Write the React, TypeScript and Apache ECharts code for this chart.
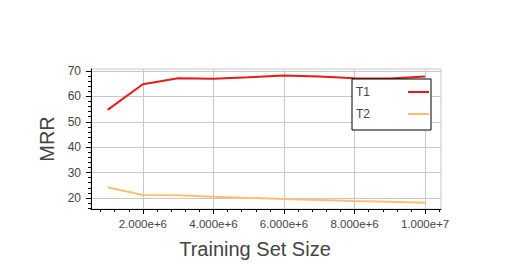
import React, { useEffect, useRef } from 'react';
import * as echarts from 'echarts';

const trainingSizes = [1e6, 2e6, 3e6, 4e6, 5e6, 6e6, 7e6, 8e6, 9e6, 1e7];
const t1Values = [54.7, 64.8, 67.1, 66.9, 67.5, 68.2, 67.8, 67.1, 67.0, 67.8];
const t2Values = [24.2, 21.2, 21.1, 20.5, 20.0, 19.6, 19.2, 18.8, 18.5, 18.1];
const xMajorTicks = [2e6, 4e6, 6e6, 8e6, 1e7];
const xMinorTicks = [0.8e6, 1.2e6, 1.6e6, 2.4e6, 2.8e6, 3.2e6, 3.6e6, 4.4e6, 4.8e6, 5.2e6, 5.6e6, 6.4e6, 6.8e6, 7.2e6, 7.6e6, 8.4e6, 8.8e6, 9.2e6, 9.6e6, 1.04e7];
const yMajorTicks = [20, 30, 40, 50, 60, 70];
const yMinorTicks = [16, 18, 22, 24, 26, 28, 32, 34, 36, 38, 42, 44, 46, 48, 52, 54, 56, 58, 62, 64, 66, 68];

const FONT = '"Liberation Sans", Arial, sans-serif';
const X_MIN = 0.53e6;
const X_MAX = 1.045e7;
const Y_MIN = 15.65;
const Y_MAX = 70.78;

export default function App() {
  const ref = useRef<HTMLDivElement>(null);
  useEffect(() => {
    if (!ref.current) return;
    const chart = echarts.init(ref.current, null, { renderer: 'svg' });
    const axisBlack = { color: '#000', width: 1 };
    chart.setOption({
      animation: false,
      backgroundColor: '#fff',
      textStyle: { fontFamily: FONT },
      grid: {
        left: 91, top: 69, right: 81, bottom: 69,
        show: true, borderColor: '#c8c8c8', borderWidth: 1, backgroundColor: 'transparent',
      },
      legend: {
        orient: 'vertical', left: 352, top: 79, align: 'right',
        icon: 'rect', itemWidth: 21, itemHeight: 2, itemGap: 8,
        padding: [6, 2, 9, 4],
        borderColor: '#000', borderWidth: 1, backgroundColor: '#fff',
        textStyle: { fontSize: 12, lineHeight: 14, color: '#444', fontFamily: FONT, padding: [0, 33, 0, 0] },
        data: ['T1', 'T2'],
      },
      xAxis: [
        {
          type: 'value', min: X_MIN, max: X_MAX, position: 'bottom',
          name: 'Training Set Size', nameLocation: 'middle', nameGap: 30,
          nameTextStyle: { fontSize: 20, color: '#444', fontFamily: FONT, padding: [0, 22, 0, 0] },
          axisLine: { show: true, lineStyle: axisBlack },
          axisTick: { show: true, customValues: xMajorTicks, length: 5, lineStyle: axisBlack },
          axisLabel: {
            customValues: xMajorTicks, fontSize: 11.5, color: '#444', margin: 9, fontFamily: FONT,
            formatter: (v: number) => v.toExponential(3),
          },
          splitLine: { show: true, lineStyle: { color: '#c8c8c8', width: 1 } },
        },
        {
          type: 'value', min: X_MIN, max: X_MAX, position: 'bottom',
          axisLine: { show: false },
          axisTick: { show: true, customValues: xMinorTicks, length: 3, lineStyle: axisBlack },
          axisLabel: { show: false },
          splitLine: { show: false },
        },
      ],
      yAxis: [
        {
          type: 'value', min: Y_MIN, max: Y_MAX, position: 'left',
          name: 'MRR', nameLocation: 'middle', nameGap: 29,
          nameTextStyle: { fontSize: 20, color: '#444', fontFamily: FONT },
          axisLine: { show: true, lineStyle: axisBlack },
          axisTick: { show: true, customValues: yMajorTicks, length: 5, lineStyle: axisBlack },
          axisLabel: { customValues: yMajorTicks, fontSize: 12, color: '#444', margin: 10, fontFamily: FONT },
          splitLine: { show: true, lineStyle: { color: '#c8c8c8', width: 1 } },
        },
        {
          type: 'value', min: Y_MIN, max: Y_MAX, position: 'left',
          axisLine: { show: false },
          axisTick: { show: true, customValues: yMinorTicks, length: 3, lineStyle: axisBlack },
          axisLabel: { show: false },
          splitLine: { show: false },
        },
      ],
      series: [
        {
          name: 'T1', type: 'line', symbol: 'none', xAxisIndex: 0, yAxisIndex: 0,
          data: trainingSizes.map((x, i) => [x, t1Values[i]]),
          lineStyle: { color: '#e41a1c', width: 2 }, itemStyle: { color: '#e41a1c' },
        },
        {
          name: 'T2', type: 'line', symbol: 'none', xAxisIndex: 0, yAxisIndex: 0,
          data: trainingSizes.map((x, i) => [x, t2Values[i]]),
          lineStyle: { color: '#fdbf6f', width: 2 }, itemStyle: { color: '#fdbf6f' },
        },
      ],
    });
    return () => chart.dispose();
  }, []);
  return <div ref={ref} style={{ width: 522, height: 278, position: 'absolute', left: 0, top: 0 }} />;
}
